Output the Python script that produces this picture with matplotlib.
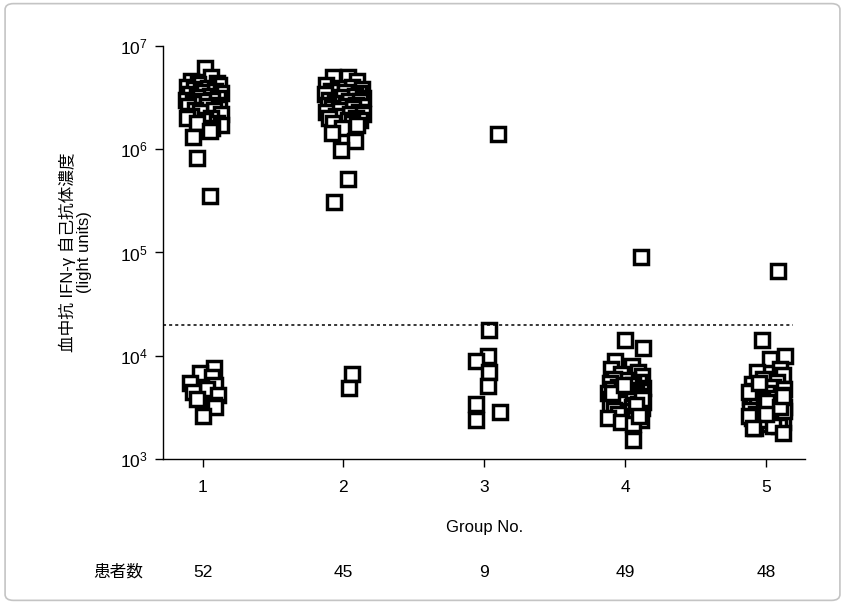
import matplotlib
matplotlib.use("Agg")
import matplotlib.pyplot as plt
from matplotlib.patches import FancyBboxPatch

plt.rcParams['font.family'] = ['Liberation Sans', 'Noto Sans CJK JP', 'DejaVu Sans']
plt.rcParams['mathtext.fontset'] = 'custom'
plt.rcParams['mathtext.rm'] = 'Liberation Sans'
plt.rcParams['mathtext.it'] = 'Liberation Sans'

# group numbers and patient counts
groups = [1, 2, 3, 4, 5]
n_patients = [52, 45, 9, 49, 48]
cutoff = 2.0e4

# antibody levels (light units) per group, with horizontal scatter offsets
g1_vals = [6.1e6, 5.0e6, 4.6e6, 4.4e6, 4.3e6, 4.2e6, 4.0e6, 3.9e6, 3.8e6, 3.7e6,
           3.6e6, 3.5e6, 3.4e6, 3.3e6, 3.2e6, 3.1e6, 3.0e6, 3.0e6, 2.9e6, 2.8e6,
           2.7e6, 2.6e6, 2.6e6, 2.5e6, 2.4e6, 2.4e6, 2.3e6, 2.2e6, 2.1e6, 2.0e6,
           2.0e6, 1.9e6, 1.8e6, 1.8e6, 1.7e6, 1.6e6, 1.5e6, 1.3e6, 8.3e5, 3.5e5,
           7.6e3, 6.8e3, 6.2e3, 5.4e3, 5.2e3, 4.8e3, 4.5e3, 4.2e3, 3.8e3, 3.3e3, 3.2e3, 2.6e3]
g1_dx = [0.02, 0.06, -0.08, 0.10, -0.03, 0.12, -0.11, 0.04, -0.06, 0.09,
         -0.01, 0.13, -0.09, 0.05, -0.04, 0.11, -0.12, 0.07, 0.00, -0.07,
         0.10, -0.10, 0.03, 0.12, -0.05, 0.08, -0.02, 0.13, -0.08, 0.06,
         -0.11, 0.02, 0.10, -0.04, 0.13, 0.07, 0.05, -0.07, -0.04, 0.05,
         0.085, -0.02, 0.07, -0.09, 0.09, 0.03, -0.07, 0.11, -0.04, 0.08, 0.09, 0.00]

g2_vals = [5.0e6, 5.0e6, 4.6e6, 4.2e6, 4.0e6, 3.9e6, 3.8e6, 3.7e6, 3.6e6, 3.5e6,
           3.4e6, 3.3e6, 3.2e6, 3.1e6, 3.0e6, 2.9e6, 2.9e6, 2.8e6, 2.7e6, 2.7e6,
           2.6e6, 2.6e6, 2.5e6, 2.5e6, 2.4e6, 2.3e6, 2.3e6, 2.2e6, 2.2e6, 2.1e6,
           2.0e6, 2.0e6, 1.9e6, 1.9e6, 1.8e6, 1.8e6, 1.7e6, 1.6e6, 1.45e6, 1.2e6,
           9.8e5, 5.2e5, 3.1e5, 6.7e3, 4.9e3]
g2_dx = [-0.07, 0.03, 0.10, -0.12, 0.06, -0.04, 0.13, -0.09, 0.01, 0.11,
         -0.13, 0.08, -0.02, 0.14, -0.10, 0.04, 0.12, -0.06, 0.09, -0.11,
         0.02, 0.13, -0.08, 0.07, -0.03, 0.11, -0.12, 0.05, 0.14, -0.05,
         0.09, -0.10, 0.03, 0.12, -0.07, 0.06, 0.10, -0.01, -0.08, 0.085,
         -0.02, 0.03, -0.065, 0.06, 0.04]

g3_vals = [1.4e6, 1.77e4, 9.9e3, 8.9e3, 6.9e3, 5.1e3, 3.4e3, 2.85e3, 2.4e3]
g3_dx = [0.10, 0.035, 0.03, -0.057, 0.035, 0.03, -0.057, 0.11, -0.057]

g4_vals = [9.0e4, 1.42e4, 1.2e4, 8.9e3, 8.0e3, 7.4e3, 7.0e3, 6.6e3, 6.3e3, 6.0e3,
           5.8e3, 5.6e3, 5.4e3, 5.2e3, 5.0e3, 4.9e3, 4.8e3, 4.7e3, 4.6e3, 4.5e3,
           4.4e3, 4.3e3, 4.2e3, 4.1e3, 4.0e3, 3.9e3, 3.8e3, 3.7e3, 3.6e3, 3.5e3,
           3.4e3, 3.3e3, 3.2e3, 3.1e3, 3.0e3, 2.9e3, 2.8e3, 2.7e3, 2.6e3, 2.5e3,
           2.4e3, 2.3e3, 2.2e3, 4.4e3, 3.8e3, 5.2e3, 3.3e3, 2.6e3, 1.53e3]
g4_dx = [0.11, 0.00, 0.13, -0.07, 0.05, -0.10, 0.09, -0.03, 0.12, -0.08,
         0.02, 0.10, -0.11, 0.06, -0.05, 0.13, -0.09, 0.04, 0.11, -0.02,
         -0.12, 0.08, 0.01, 0.12, -0.06, 0.07, -0.10, 0.03, 0.13, -0.04,
         0.09, -0.11, 0.05, 0.12, -0.08, 0.02, 0.10, -0.05, 0.07, -0.12,
         0.11, -0.03, 0.06, -0.09, 0.12, -0.01, 0.08, 0.10, 0.06]

g5_vals = [6.6e4, 1.42e4, 1.0e4, 9.2e3, 7.5e3, 7.0e3, 6.5e3, 6.0e3, 5.6e3, 5.3e3,
           5.0e3, 4.8e3, 4.6e3, 4.4e3, 4.2e3, 4.0e3, 3.9e3, 3.8e3, 3.7e3, 3.6e3,
           3.5e3, 3.4e3, 3.3e3, 3.2e3, 3.1e3, 3.0e3, 2.9e3, 2.8e3, 2.7e3, 2.6e3,
           2.5e3, 2.4e3, 2.3e3, 2.2e3, 2.1e3, 2.0e3, 4.5e3, 3.6e3, 2.9e3, 2.4e3,
           5.5e3, 3.2e3, 2.6e3, 2.1e3, 4.1e3, 2.7e3, 1.8e3, 2.0e3]
g5_dx = [0.085, -0.03, 0.135, 0.03, 0.10, -0.06, 0.12, -0.02, 0.08, -0.10,
         0.05, 0.13, -0.08, 0.02, 0.11, -0.11, 0.07, -0.04, 0.12, -0.09,
         0.04, 0.10, -0.06, 0.13, -0.01, -0.11, 0.08, 0.03, -0.07, 0.11,
         -0.10, 0.06, 0.12, -0.04, 0.09, -0.08, -0.12, 0.01, 0.13, -0.02,
         -0.05, 0.10, -0.12, 0.05, 0.12, 0.00, 0.12, -0.09]

all_vals = [g1_vals, g2_vals, g3_vals, g4_vals, g5_vals]
all_dx = [g1_dx, g2_dx, g3_dx, g4_dx, g5_dx]

fig = plt.figure(figsize=(8.45, 6.04), dpi=100)
ax = fig.add_axes([0.193, 0.240, 0.760, 0.684])

for g, vals, dx in zip(groups, all_vals, all_dx):
    xs = [g + d for d in dx]
    ax.plot(xs, vals, linestyle='none', marker='s', markersize=10.5,
            markerfacecolor='white', markeredgecolor='black', markeredgewidth=2.5)

ax.plot([0.72, 5.19], [cutoff, cutoff], color='black', linestyle=(0, (2, 2)), linewidth=1.1)

ax.set_yscale('log')
ax.set_ylim(1e3, 1e7)
ax.set_xlim(0.72, 5.28)
ax.set_yticks([1e3, 1e4, 1e5, 1e6, 1e7])
ax.set_yticklabels([r'$10^{%d}$' % k for k in range(3, 8)])
ax.minorticks_off()
ax.set_xticks(groups)
ax.set_xticklabels([str(g) for g in groups])
ax.tick_params(axis='both', direction='out', length=6, width=1, labelsize=12.5, pad=5)
ax.tick_params(axis='x', pad=9)

for side in ['top', 'right']:
    ax.spines[side].set_visible(False)
for side in ['left', 'bottom']:
    ax.spines[side].set_linewidth(1)

ax.set_ylabel('血中抗 IFN-γ 自己抗体濃度\n(light units)', fontsize=12, labelpad=20,
              linespacing=1.1)
ax.set_xlabel('Group No.', fontsize=12, labelpad=18)

# patient counts row
trans = ax.get_xaxis_transform()
for g, n in zip(groups, n_patients):
    ax.text(g, -0.275, str(n), transform=trans, ha='center', va='center', fontsize=12.5)
fig.text(118 / 845, 1 - 572 / 604, '患者数', ha='center', va='center', fontsize=12)

# light grey frame round the figure
frame = FancyBboxPatch((0.006, 0.006), 0.988, 0.988, boxstyle='round,pad=0,rounding_size=0.01',
                       transform=fig.transFigure, fill=False, edgecolor='#c4c4c4', linewidth=1.2)
fig.patches.append(frame)

fig.savefig('out.png', dpi=100)
